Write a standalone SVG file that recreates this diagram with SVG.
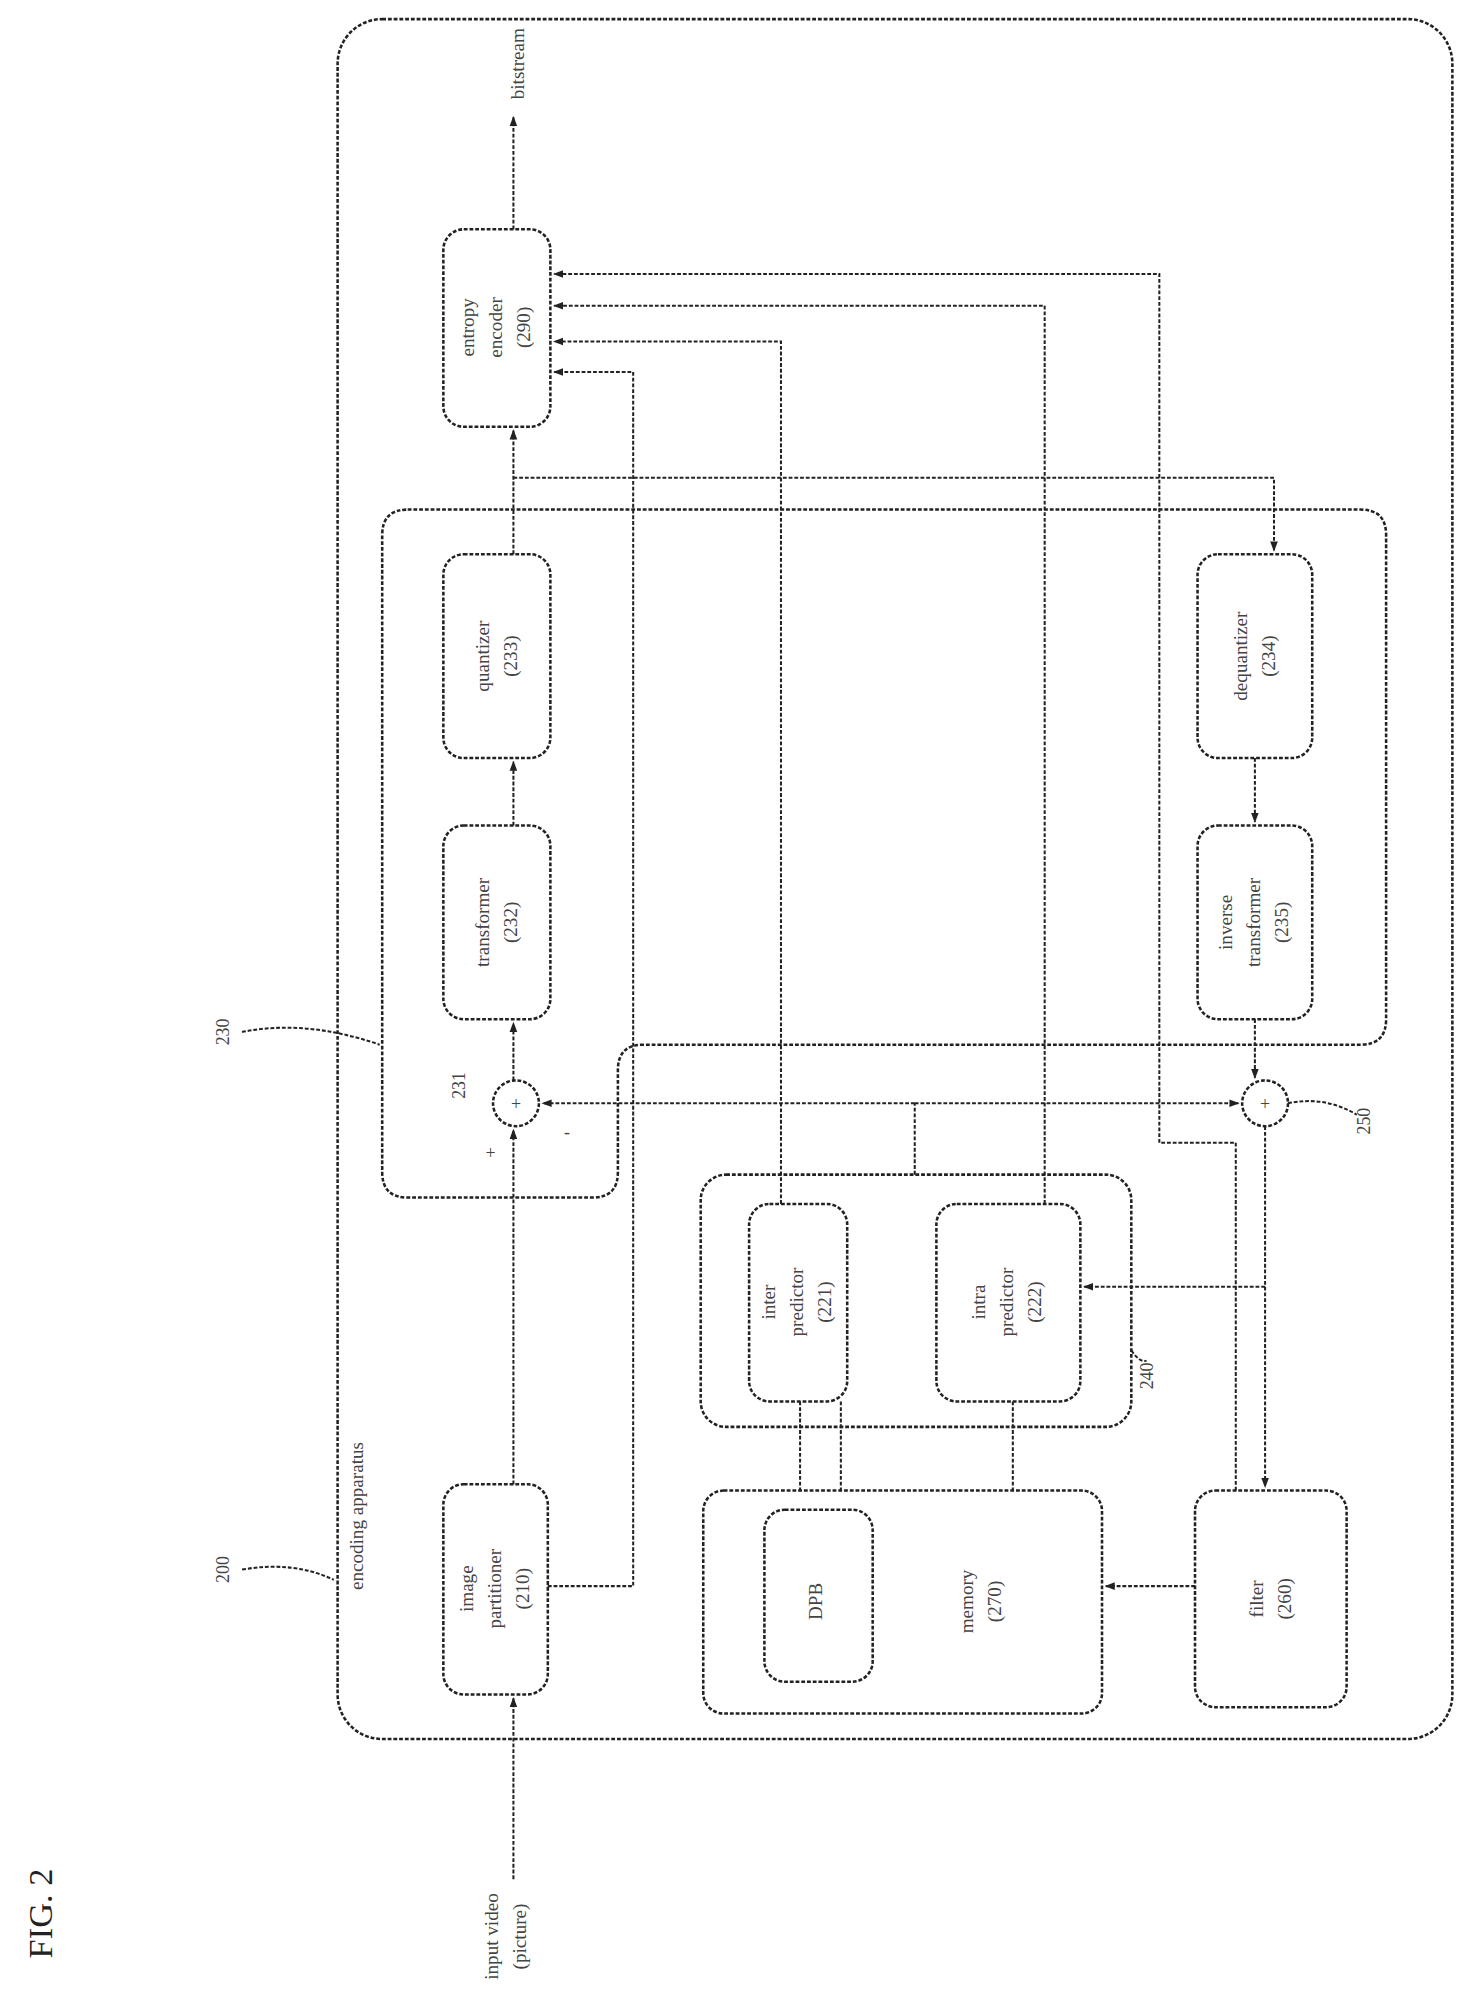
<svg xmlns="http://www.w3.org/2000/svg" width="1478" height="2006" viewBox="0 0 1478 2006">
<defs>
<marker id="ah" markerWidth="8" markerHeight="8" refX="7" refY="4" orient="auto" markerUnits="userSpaceOnUse"><path d="M0,1 L8,4 L0,7 Z" fill="#222"/></marker>
<style>
.b{fill:none;stroke:#222;stroke-width:2;stroke-dasharray:3 1.5}
.l{fill:none;stroke:#222;stroke-width:1.6;stroke-dasharray:3 1.5}
.t{font-family:"Liberation Serif",serif;font-size:15px;fill:#444;text-anchor:middle}
.n{font-family:"Liberation Serif",serif;font-size:14px;fill:#444;text-anchor:middle}
</style>
</defs>
<rect width="1478" height="2006" fill="#fff"/>
<g transform="scale(1.274)">
<text x="35" y="1502" transform="rotate(-90 35 1502)" style="font-family:'Liberation Serif',serif;font-size:27px;fill:#222;text-anchor:middle" dominant-baseline="middle">FIG. 2</text>
<g id="outer"><rect class="b" x="265" y="15" width="875" height="1350" rx="35"/>
<text class="t" x="285" y="1190" transform="rotate(-90 285 1190)">encoding apparatus</text>
<text class="n" x="180" y="1232" transform="rotate(-90 180 1232)">200</text><path class="l" d="M190,1232 Q230,1225 262,1240"/></g>
<g id="grp230"><path class="b" d="M320,400 H1068 Q1088,400 1088,420 V800 Q1088,820 1068,820 H505 Q485,820 485,840 V920 Q485,940 465,940 H320 Q300,940 300,920 V420 Q300,400 320,400 Z"/>
<text class="n" x="180" y="810" transform="rotate(-90 180 810)">230</text><path class="l" d="M190,810 Q240,800 298,820"/></g>
<g id="grp240"><rect class="b" x="550" y="922" width="338" height="198" rx="20"/>
<text class="n" x="905" y="1080" transform="rotate(-90 905 1080)">240</text><path class="l" d="M888,1060 Q895,1070 900,1068"/></g>
<g id="entropy"><rect class="b" x="348" y="180" width="84" height="155" rx="16"/><text class="t" transform="rotate(-90 390 257)" x="390" y="257"><tspan x="390" dy="-18">entropy</tspan><tspan x="390" dy="22">encoder</tspan><tspan x="390" dy="22">(290)</tspan></text></g>
<g id="quantizer"><rect class="b" x="348" y="435" width="84" height="160" rx="16"/><text class="t" transform="rotate(-90 390 515)" x="390" y="515"><tspan x="390" dy="-6">quantizer</tspan><tspan x="390" dy="22">(233)</tspan></text></g>
<g id="transformer"><rect class="b" x="348" y="648" width="84" height="152" rx="16"/><text class="t" transform="rotate(-90 390 724)" x="390" y="724"><tspan x="390" dy="-6">transformer</tspan><tspan x="390" dy="22">(232)</tspan></text></g>
<g id="dequantizer"><rect class="b" x="940" y="435" width="90" height="160" rx="16"/><text class="t" transform="rotate(-90 985 515)" x="985" y="515"><tspan x="985" dy="-6">dequantizer</tspan><tspan x="985" dy="22">(234)</tspan></text></g>
<g id="invtransformer"><rect class="b" x="940" y="648" width="90" height="152" rx="16"/><text class="t" transform="rotate(-90 985 724)" x="985" y="724"><tspan x="985" dy="-18">inverse</tspan><tspan x="985" dy="22">transformer</tspan><tspan x="985" dy="22">(235)</tspan></text></g>
<g id="partitioner"><rect class="b" x="348" y="1165" width="82" height="165" rx="16"/><text class="t" transform="rotate(-90 389 1247)" x="389" y="1247"><tspan x="389" dy="-18">image</tspan><tspan x="389" dy="22">partitioner</tspan><tspan x="389" dy="22">(210)</tspan></text></g>
<g id="inter"><rect class="b" x="588" y="945" width="77" height="155" rx="16"/><text class="t" transform="rotate(-90 626 1022)" x="626" y="1022"><tspan x="626" dy="-18">inter</tspan><tspan x="626" dy="22">predictor</tspan><tspan x="626" dy="22">(221)</tspan></text></g>
<g id="intra"><rect class="b" x="735" y="945" width="113" height="155" rx="16"/><text class="t" transform="rotate(-90 791 1022)" x="791" y="1022"><tspan x="791" dy="-18">intra</tspan><tspan x="791" dy="22">predictor</tspan><tspan x="791" dy="22">(222)</tspan></text></g>
<g id="memory"><rect class="b" x="552" y="1170" width="313" height="175" rx="16"/><text class="t" transform="rotate(-90 770 1257)" x="770" y="1257"><tspan x="770" dy="-6">memory</tspan><tspan x="770" dy="22">(270)</tspan></text></g>
<g id="dpb"><rect class="b" x="600" y="1185" width="85" height="135" rx="16"/><text class="t" x="642" y="1257" transform="rotate(-90 642 1257)" dominant-baseline="middle">DPB</text></g>
<g id="filter"><rect class="b" x="938" y="1170" width="119" height="170" rx="16"/><text class="t" transform="rotate(-90 997 1255)" x="997" y="1255"><tspan x="997" dy="-6">filter</tspan><tspan x="997" dy="22">(260)</tspan></text></g>
<g id="adder231"><circle class="b" cx="405" cy="866" r="18"/><text class="n" x="405" y="871">+</text>
<text class="n" x="365" y="852" transform="rotate(-90 365 852)">231</text><text class="n" x="385" y="910">+</text><text class="n" x="445" y="893">-</text></g>
<g id="adder236"><circle class="b" cx="993" cy="866" r="18"/><text class="n" x="993" y="871">+</text>
<text class="n" x="1075" y="880" transform="rotate(-90 1075 880)">250</text><path class="l" d="M1011,866 Q1040,860 1065,875"/></g>
<g id="connectors">
<path class="l" d="M403,1475 V1333" marker-end="url(#ah)"/>
<text class="t" transform="rotate(-90 395 1520)" x="395" y="1520"><tspan x="395" dy="-4">input video</tspan><tspan x="395" dy="22">(picture)</tspan></text>
<path class="l" d="M403,1165 V887" marker-end="url(#ah)"/>
<path class="l" d="M403,848 V803" marker-end="url(#ah)"/>
<path class="l" d="M403,648 V598" marker-end="url(#ah)"/>
<path class="l" d="M403,435 V338" marker-end="url(#ah)"/>
<path class="l" d="M403,180 V92" marker-end="url(#ah)"/>
<text class="t" x="408" y="50" transform="rotate(-90 408 50)" dominant-baseline="middle">bitstream</text>
<path class="l" d="M403,375 H1000 V432" marker-end="url(#ah)"/>
<path class="l" d="M985,595 V645" marker-end="url(#ah)"/>
<path class="l" d="M985,800 V846" marker-end="url(#ah)"/>
<path class="l" d="M430,1245 H497 V292 H435" marker-end="url(#ah)"/>
<path class="l" d="M613,945 V268 H435" marker-end="url(#ah)"/>
<path class="l" d="M820,945 V240 H435" marker-end="url(#ah)"/>
<path class="l" d="M970,1170 V897 H910 V215 H435" marker-end="url(#ah)"/>
<path class="l" d="M718,922 V866"/>
<path class="l" d="M718,866 H426" marker-end="url(#ah)"/>
<path class="l" d="M718,866 H972" marker-end="url(#ah)"/>
<path class="l" d="M993,884 V1167" marker-end="url(#ah)"/>
<path class="l" d="M993,1010 H851" marker-end="url(#ah)"/>
<path class="l" d="M938,1245 H868" marker-end="url(#ah)"/>
<path class="l" d="M628,1100 V1170"/><path class="l" d="M660,1100 V1170"/><path class="l" d="M795,1100 V1170"/>
</g>
</g>
</svg>
